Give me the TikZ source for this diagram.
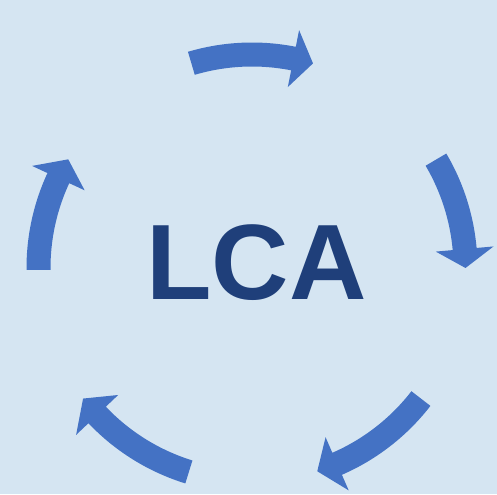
\documentclass[tikz,border=0pt]{standalone}
\usepackage{fontspec}
\newfontfamily\lcafont{Liberation Sans}
\usepackage{xcolor}
\definecolor{bgblue}{HTML}{D5E5F2}
\definecolor{accent}{HTML}{4472C4}
\definecolor{darkaccent}{HTML}{1F3F7A}
\usepackage{tikz}
\usetikzlibrary{calc}

\begin{document}
\begin{tikzpicture}[x=0.02cm, y=0.02cm]
  % Background
  \fill[bgblue] (0,0) rectangle (497,494);
  \coordinate (c) at (252,226);

  % Cycle arrows (tail/base of head/tip angles)
  \foreach \ta/\ba/\pa in {106.5/78.8/73.4, 30.5/5.1/0, -37.7/-66.5/-72.2,
                           -107.2/-136.5/-142.3, 180.5/155.1/149.4}{
    \fill[accent] ($(c)+(\ta:225.5)$) arc[start angle=\ta, end angle=\ba, radius=225.5]
      -- ($(c)+(\ba:242.5)$) -- ($(c)+(\pa:213.5)$) -- ($(c)+(\ba:184.5)$)
      -- ($(c)+(\ba:201.5)$) arc[start angle=\ba, end angle=\ta, radius=201.5] -- cycle;
  }

  % Label
  \node[darkaccent, font=\lcafont\bfseries\fontsize{61}{72}\selectfont] (lca) at (256.5,231) {LCA};
\end{tikzpicture}
\end{document}
